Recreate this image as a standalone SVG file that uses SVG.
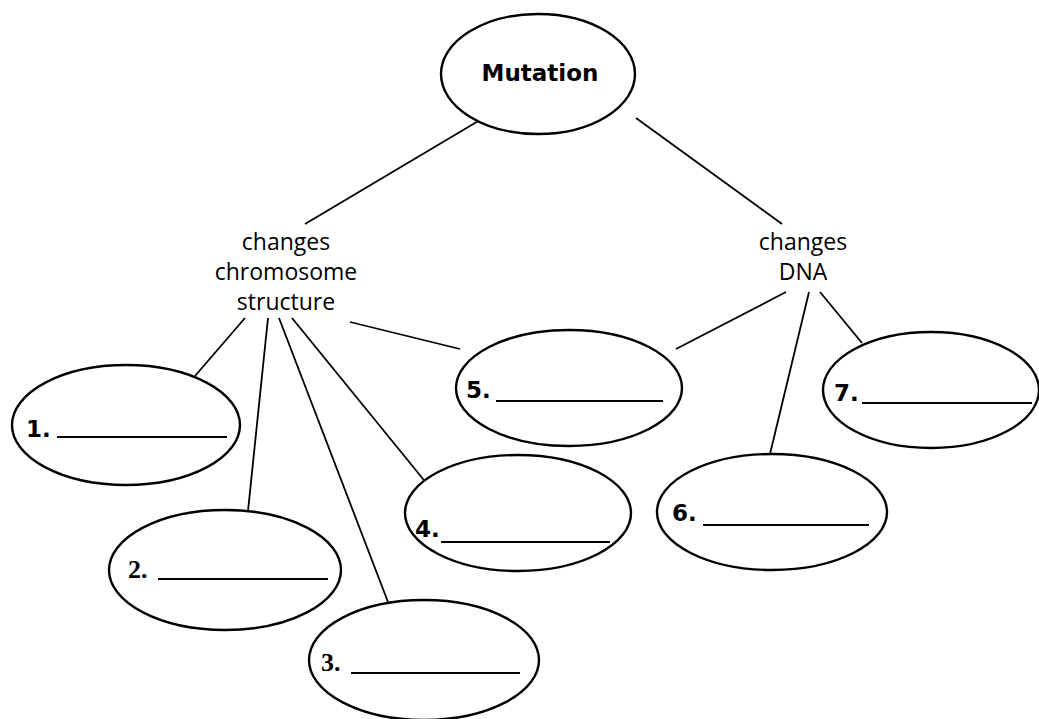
<svg xmlns="http://www.w3.org/2000/svg" width="1039" height="719" viewBox="0 0 1039 719">
<style>
.e{fill:#fff;stroke:#000;stroke-width:2.4}
.c line{stroke:#000;stroke-width:1.8}
.t{font-family:"Open Sans","DejaVu Sans",sans-serif;font-size:23px;fill:#000;text-anchor:middle}
.n{font-family:"DejaVu Sans","Liberation Sans",sans-serif;font-size:23px;font-weight:bold;fill:#000}
.s{font-family:"Liberation Serif",serif;font-size:26px;font-weight:bold;fill:#000}
.u{stroke:#000;stroke-width:2.2}
</style>
<rect width="1039" height="719" fill="#fff"/>
<g class="c" id="connectors">
<line x1="480" y1="120" x2="305" y2="224"/>
<line x1="636" y1="118" x2="782" y2="224"/>
<line x1="245" y1="318" x2="195" y2="376"/>
<line x1="268" y1="318" x2="248" y2="511"/>
<line x1="279" y1="318" x2="388" y2="602"/>
<line x1="292" y1="318" x2="432" y2="490"/>
<line x1="350" y1="322" x2="460" y2="349"/>
<line x1="786" y1="292" x2="676" y2="349"/>
<line x1="809" y1="292" x2="770" y2="454"/>
<line x1="820" y1="292" x2="862" y2="343"/>
</g>
<g id="mutation"><ellipse class="e" cx="538" cy="74" rx="97" ry="60"/><text class="n" x="540" y="81" text-anchor="middle" font-size="20">Mutation</text></g>
<g id="chromosome"><text class="t" x="286" y="250">changes</text><text class="t" x="286" y="280">chromosome</text><text class="t" x="286" y="310">structure</text></g>
<g id="dna"><text class="t" x="803" y="250">changes</text><text class="t" x="803" y="280">DNA</text></g>
<g id="n1"><ellipse class="e" cx="126" cy="425" rx="114" ry="60"/><text class="n" x="26" y="437">1.</text><line class="u" x1="57" y1="437" x2="227" y2="437"/></g>
<g id="n2"><ellipse class="e" cx="225" cy="570" rx="116" ry="60"/><text class="s" x="128" y="578">2.</text><line class="u" x1="158" y1="579" x2="328" y2="579"/></g>
<g id="n3"><ellipse class="e" cx="424" cy="660" rx="115" ry="60"/><text class="s" x="321" y="671">3.</text><line class="u" x1="351" y1="673" x2="520" y2="673"/></g>
<g id="n4"><ellipse class="e" cx="518" cy="513" rx="113" ry="58"/><text class="n" x="415" y="537">4.</text><line class="u" x1="441" y1="542" x2="610" y2="542"/></g>
<g id="n5"><ellipse class="e" cx="569" cy="388" rx="113" ry="58"/><text class="n" x="466" y="398">5.</text><line class="u" x1="496" y1="401" x2="663" y2="401"/></g>
<g id="n6"><ellipse class="e" cx="772" cy="512" rx="115" ry="58"/><text class="n" x="672" y="521">6.</text><line class="u" x1="703" y1="525" x2="869" y2="525"/></g>
<g id="n7"><ellipse class="e" cx="931" cy="390" rx="108" ry="58"/><text class="n" x="834" y="401">7.</text><line class="u" x1="862" y1="403" x2="1032" y2="403"/></g>
</svg>
